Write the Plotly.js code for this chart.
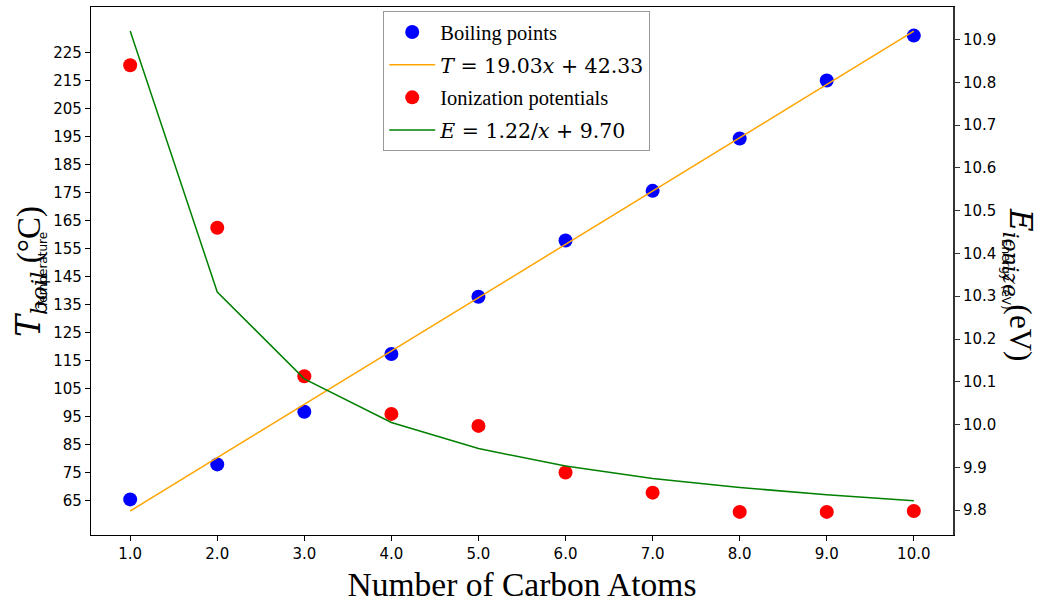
<!DOCTYPE html>
<html>
<head>
<meta charset="utf-8">
<script src="https://cdn.plot.ly/plotly-3.0.1.min.js"></script>
<style>html,body{margin:0;padding:0;background:#fff;}#chart{width:1039px;height:603px;}</style>
</head>
<body>
<div id="chart"></div>
<script>
// Number of carbon atoms
const carbonAtoms = [1, 2, 3, 4, 5, 6, 7, 8, 9, 10];
// Boiling points (°C)
const boilingPoints = [65.5, 78, 96.8, 117.4, 137.8, 157.9, 175.6, 194.3, 215, 231];
// Linear fit T = 19.03x + 42.33 as drawn
const boilingFit = [61.36, 80.39, 99.42, 118.45, 137.48, 156.51, 175.54, 194.57, 213.6, 232.63];
// Ionization potentials (eV)
const ionizationPotentials = [10.84, 10.46, 10.113, 10.025, 9.997, 9.888, 9.841, 9.796, 9.796, 9.798];
// Fit E = 1.22/x + 9.70 as drawn
const ionizationFit = [10.92, 10.31, 10.107, 10.005, 9.944, 9.903, 9.874, 9.853, 9.836, 9.822];
const leftTicks = [65, 75, 85, 95, 105, 115, 125, 135, 145, 155, 165, 175, 185, 195, 205, 215, 225];
const rightTicks = [9.8, 9.9, 10.0, 10.1, 10.2, 10.3, 10.4, 10.5, 10.6, 10.7, 10.8, 10.9];

const serif = "Liberation Serif, Times New Roman, serif";

const traces = [
  {x: carbonAtoms, y: boilingPoints, type: 'scatter', mode: 'markers', name: 'Boiling points',
   marker: {color: '#0000ff', size: 14}, yaxis: 'y', legendgroup: 'a'},
  {x: carbonAtoms, y: boilingFit, type: 'scatter', mode: 'lines',
   name: '<span style="font-family:DejaVu Serif"><i>T</i> = 19.03<i>x</i> + 42.33</span>',
   line: {color: '#ffa500', width: 1.5}, yaxis: 'y', legendgroup: 'b'},
  {x: carbonAtoms, y: ionizationPotentials, type: 'scatter', mode: 'markers', name: 'Ionization potentials',
   marker: {color: '#ff0000', size: 14}, yaxis: 'y2', legendgroup: 'c'},
  {x: carbonAtoms, y: ionizationFit, type: 'scatter', mode: 'lines',
   name: '<span style="font-family:DejaVu Serif"><i>E</i> = 1.22/<i>x</i> + 9.70</span>',
   line: {color: '#008000', width: 1.5}, yaxis: 'y2', legendgroup: 'd'}
];

const tickFont = {family: 'DejaVu Sans, sans-serif', size: 15, color: '#000'};

const layout = {
  width: 1039, height: 603,
  margin: {l: 91, r: 86, t: 7, b: 68},
  paper_bgcolor: '#fff', plot_bgcolor: '#fff',
  showlegend: true,
  legend: {
    x: 0.339, y: 0.992, xanchor: 'left', yanchor: 'top',
    bgcolor: '#fff', bordercolor: '#999', borderwidth: 1,
    font: {family: serif, size: 20.5, color: '#000'},
    traceorder: 'grouped', tracegroupgap: 3, itemwidth: 46
  },
  xaxis: {
    range: [0.55, 10.45], tickvals: carbonAtoms, tickformat: '.1f',
    showgrid: false, zeroline: false, showline: true, linecolor: '#000', linewidth: 1.2,
    mirror: true, ticks: 'outside', ticklen: 5, tickcolor: '#000', tickfont: tickFont,
    title: {text: 'Number of Carbon Atoms', font: {family: serif, size: 33.5, color: '#000'}, standoff: 11}
  },
  yaxis: {
    range: [52.8, 241.2], tickvals: leftTicks,
    showgrid: false, zeroline: false, showline: true, linecolor: '#000', linewidth: 1.2,
    ticks: 'outside', ticklen: 5, tickcolor: '#000', tickfont: tickFont
  },
  yaxis2: {
    range: [9.742, 10.976], tickvals: rightTicks, tickformat: '.1f',
    overlaying: 'y', side: 'right',
    showgrid: false, zeroline: false, showline: true, linecolor: '#333', linewidth: 2,
    ticks: 'outside', ticklen: 5, tickcolor: '#333', tickfont: tickFont
  },
  annotations: [
    {xref: 'paper', yref: 'paper', x: -0.0708, y: 0.5, xanchor: 'center', yanchor: 'middle',
     textangle: -90, showarrow: false,
     text: '<span style="font-family:DejaVu Serif"><i>T</i><sub><i>boil</i></sub></span> (°C)',
     font: {family: serif, size: 33, color: '#000'}},
    {xref: 'paper', yref: 'paper', x: -0.0557, y: 0.502, xanchor: 'center', yanchor: 'middle',
     textangle: -90, showarrow: false, text: 'Temperature',
     font: {family: 'DejaVu Sans, sans-serif', size: 12, color: '#000'}},
    {xref: 'paper', yref: 'paper', x: 1.0754, y: 0.4735, xanchor: 'center', yanchor: 'middle',
     textangle: 90, showarrow: false,
     text: '<span style="font-family:DejaVu Serif"><i>E</i><sub><i>ionize</i></sub></span> (eV)',
     font: {family: serif, size: 31, color: '#000'}},
    {xref: 'paper', yref: 'paper', x: 1.0615, y: 0.4945, xanchor: 'center', yanchor: 'middle',
     textangle: 90, showarrow: false, text: 'Energy (eV)',
     font: {family: 'DejaVu Sans, sans-serif', size: 12, color: '#000'}}
  ]
};

Plotly.newPlot('chart', traces, layout, {displayModeBar: false, staticPlot: true});
</script>
</body>
</html>
